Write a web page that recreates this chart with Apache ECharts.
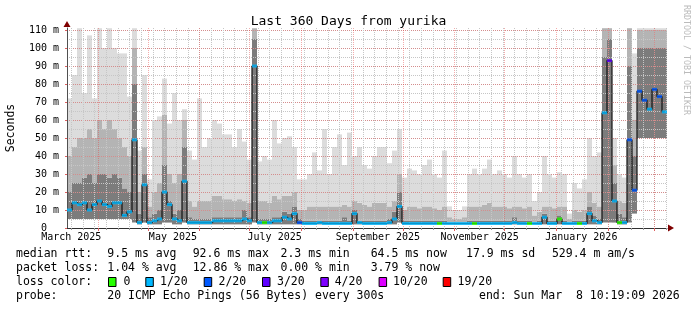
<!DOCTYPE html>
<html><head><meta charset="utf-8">
<script src="https://cdn.jsdelivr.net/npm/echarts@6/dist/echarts.min.js"></script>
<style>html,body{margin:0;padding:0;background:#fff}#c{width:697px;height:310px}</style>
</head><body><div id="c"></div>
<script>
// ---- data: 120 bins of 3 days each, Mar 13 2025 .. Mar 8 2026 (values in ms) ----
const DAYS = 360;
const median = [
 10,14,13,14,10,13,15,13,12,14,
 14,7,9,49,3,24,3,4,5,20,
 13,5,4,26,3,3,3,3,3,4,
 4,4,4,4,4,5,4,90,3,3,
 3,4,4,6,5,8,3,2.5,2.5,2.5,
 3,2.5,2.5,2.5,2.5,2.5,2.5,8,3,2.5,
 2.5,2.5,2.5,2.5,3,5,12,2.5,2.5,2.5,
 2.5,2.5,2.5,2.5,2.5,2.5,2.5,2.5,2.5,2.5,
 2.5,2.5,2.5,2.5,2.5,2.5,2.5,2.5,2.5,3,
 2.5,2.5,2.5,2.5,2.5,6,2.5,2.5,5,2.5,
 2.5,2.5,2.5,2.5,8,4,3,64,93,15,
 3,3,49,21,76,71,66,77,73,64.5
];
const smokeLow = [
 5,5,5,5,5,5,5,5,5,5,
 5,5,5,3,2,3,2,2,2,3,
 3,2,2,3,2,2,2,2,2,2,
 2,2,2,2,2,2,2,3,2,2,
 2,2,2,2,2,2,2,2,2,2,
 2,2,2,2,2,2,2,2,2,2,
 2,2,2,2,2,2,3,2,2,2,
 2,2,2,2,2,2,2,2,2,2,
 2,2,2,2,2,2,2,2,2,2,
 2,2,2,2,2,2,2,2,2,2,
 2,2,2,2,2,2,2,3,3,3,
 2,2,3,8,50,50,50,50,50,50
];
const smokeDark = [
 20,25,25,28,30,25,30,30,28,30,
 28,22,20,80,8,30,6,8,10,35,
 15,8,10,45,6,5,5,5,5,6,
 6,6,6,6,6,10,6,105,5,5,
 5,6,6,9,8,12,5,4,4,4,
 4,4,4,4,4,6,4,10,4,4,
 4,4,4,4,5,9,20,4,4,4,
 4,4,4,4,4,4,3,3,3,3,
 4,4,4,4,4,4,4,4,4,6,
 4,4,4,3,4,8,4,4,7,4,
 3,4,4,4,12,7,5,95,105,25,
 8,6,90,40,100,100,100,100,100,100
];
const smokeMid = [
 40,45,50,50,55,50,60,55,60,55,
 50,45,40,100,20,45,12,20,25,63,
 30,25,30,60,15,12,15,15,15,18,
 18,16,16,15,16,15,14,111,15,15,
 14,18,16,18,18,20,10,10,12,12,
 12,12,12,12,12,13,12,15,14,13,
 12,14,14,14,12,15,30,10,12,12,
 11,12,12,11,10,12,6,5,5,6,
 12,12,12,13,14,12,12,12,11,12,
 12,11,12,7,9,12,12,11,12,12,
 5,10,9,10,20,14,12,111,111,35,
 15,14,111,60,110,110,110,110,110,110
];
const smokeMax = [
 72,85,111,75,107,72,111,100,111,100,
 97,97,73,111,43,85,27,60,62,83,
 58,75,60,66,43,38,72,45,50,60,
 58,52,52,45,55,48,38,111,37,40,
 38,60,47,50,51,45,27,27,30,42,
 32,55,30,45,52,35,53,40,45,35,
 33,40,45,45,36,43,55,28,33,32,
 30,35,38,30,28,43,12,10,10,12,
 30,33,30,33,38,30,32,30,28,40,
 30,28,30,15,20,40,30,28,31,30,
 8,25,22,27,50,40,42,111,111,50,
 30,28,111,97,111,111,111,111,111,111
];
// index into lossLevels / lossColors
const lossIdx = [
 1,1,1,1,1,1,1,1,1,1,
 1,1,1,1,1,1,1,1,1,1,
 1,1,1,1,1,1,1,1,1,1,
 1,1,1,1,1,1,1,1,1,0,
 1,1,1,1,1,1,2,1,1,1,
 1,1,1,1,1,1,1,1,1,1,
 1,1,1,1,1,1,1,1,1,1,
 1,1,1,1,0,1,1,1,1,1,
 1,0,1,1,1,1,1,1,1,1,
 1,1,0,1,1,1,1,1,0,1,
 1,1,0,1,1,1,1,1,3,1,
 0,1,2,2,2,2,1,2,2,1
];
const lossLevels = ['0','1/20','2/20','3/20','4/20','10/20','19/20'];
const lossColors = ['#26ff00','#00b8ff','#0059ff','#5e00ff','#7e00ff','#dd00ff','#ff0000'];

// axis ticks (days from start of window / ms)
const monthStarts = [18.57,48.57,79.57,109.57,140.57,171.57,201.57,232.57,262.57,293.57,324.57,352.57];
const monthLabelDays = [2.57,63.57,124.57,186.57,247.57,308.57];
const monthLabels = ['March 2025','May 2025','July 2025','September 2025','November 2025','January 2026'];
const firstSunday = 2.57;
const yMinorTicks = [0,5,10,15,20,25,30,35,40,45,50,55,60,65,70,75,80,85,90,95,100,105,110];
const yMajorTicks = [0,10,20,30,40,50,60,70,80,90,100,110];
const YMAX = 111.11;

const weekTicks = [];
for (let d = firstSunday; d <= DAYS; d += 7) weekTicks.push(+d.toFixed(2));

const FONT = '"DejaVu Sans Mono", monospace';
const bins = median.map((_, i) => i);
const diff = (a, b) => a.map((v, i) => Math.max(0, v - b[i]));

const minorLine = {show: true, lineStyle: {color: '#c6c6c6', type: [1, 1], width: 1}};
const majorLine = {show: true, lineStyle: {color: 'rgba(228,70,70,0.45)', type: [1, 1], width: 1}};

function arrowAxis(extra) {
  return Object.assign({
    type: 'value', min: 0, z: 4,
    axisLine: {show: true, onZero: false, symbol: ['none', 'triangle'], symbolSize: [7, 6], symbolOffset: [0, 4],
      lineStyle: {color: '#7f0000', width: 0}},
    axisTick: {show: false}, axisLabel: {show: false}, splitLine: {show: false}
  }, extra);
}

const option = {
  animation: false,
  backgroundColor: '#ffffff',
  title: {
    text: 'Last 360 Days from yurika', left: 'center', top: 10,
    textStyle: {fontFamily: FONT, fontSize: 13, fontWeight: 'normal', color: '#000'}
  },
  grid: {left: 67, top: 28, width: 600, height: 200, containLabel: false, outerBoundsMode: 'none'},
  xAxis: [
    {type: 'category', position: 'bottom', data: bins, boundaryGap: true, show: false},
    {type: 'value', position: 'bottom', min: 0, max: DAYS, z: 3,
      axisLine: {show: true, onZero: false, lineStyle: {color: '#303030', width: 1}},
      axisTick: {show: true, length: 2, customValues: weekTicks, lineStyle: {color: '#999'}},
      axisLabel: {show: false}, splitLine: minorLine},
    {type: 'value', position: 'bottom', min: 0, max: DAYS, z: 3,
      axisLine: {show: false, onZero: false},
      axisTick: {show: true, length: 3, customValues: monthStarts, lineStyle: {color: '#e06060'}},
      axisLabel: {show: true, customValues: monthLabelDays, margin: 4, fontFamily: FONT, fontSize: 10, color: '#000',
        formatter: function (v) {
          let best = 0;
          monthLabelDays.forEach((d, k) => { if (Math.abs(d - v) < Math.abs(monthLabelDays[best] - v)) best = k; });
          return monthLabels[best];
        }},
      splitLine: majorLine},
    arrowAxis({position: 'bottom', max: DAYS})
  ],
  yAxis: [
    {type: 'value', position: 'left', min: 0, max: YMAX, z: 3,
      name: 'Seconds', nameLocation: 'middle', nameGap: 50, nameRotate: 90,
      nameTextStyle: {fontFamily: FONT, fontSize: 11.5, color: '#000'},
      axisLine: {show: true, onZero: false, lineStyle: {color: '#505050', width: 1}},
      axisTick: {show: false, customValues: yMinorTicks},
      axisLabel: {show: false}, splitLine: minorLine},
    {type: 'value', position: 'left', min: 0, max: YMAX, z: 3,
      axisLine: {show: false, onZero: false},
      axisTick: {show: true, length: 2, customValues: yMajorTicks, lineStyle: {color: '#e06060'}},
      axisLabel: {show: true, customValues: yMajorTicks, margin: 8, fontFamily: FONT, fontSize: 10, color: '#000',
        formatter: v => (v === 0 ? '0  ' : v + ' m')},
      splitLine: majorLine},
    arrowAxis({position: 'left', max: YMAX})
  ],
  series: [
    {type: 'bar', stack: 'smoke', data: smokeLow, itemStyle: {color: 'rgba(0,0,0,0)'}, barWidth: '100%', silent: true},
    {type: 'bar', stack: 'smoke', data: diff(smokeDark, smokeLow), itemStyle: {color: '#7c7c7c'}, barWidth: '100%', silent: true},
    {type: 'bar', stack: 'smoke', data: diff(smokeMid, smokeDark), itemStyle: {color: '#b4b4b4'}, barWidth: '100%', silent: true},
    {type: 'bar', stack: 'smoke', data: diff(smokeMax, smokeMid), itemStyle: {color: '#dcdcdc'}, barWidth: '100%', silent: true},
    {type: 'line', data: median, step: 'middle', showSymbol: false, symbol: 'none', z: 5,
      lineStyle: {color: '#111', width: 1.2}, silent: true},
    {type: 'scatter', data: median, symbol: 'rect', symbolSize: [5, 3], z: 6, silent: true,
      itemStyle: {color: p => lossColors[lossIdx[p.dataIndex]]}}
  ],
  graphic: []
};

// legend block (rrdtool style)
const legendFont = '11.5px "DejaVu Sans Mono", monospace';
const legendRows = [
  {y: 254, items: [[16, 'median rtt:'], [107.3, '9.5 ms avg'], [192.7, '92.6 ms max'], [280.5, '2.3 ms min'],
                   [370.7, '64.5 ms now'], [466, '17.9 ms sd'], [551.9, '529.4 m am/s']]},
  {y: 268.2, items: [[16, 'packet loss:'], [107.3, '1.04 % avg'], [192.7, '12.86 % max'], [280.5, '0.00 % min'],
                     [370.7, '3.79 % now']]},
  {y: 282.2, items: [[16, 'loss color:']]},
  {y: 296.2, items: [[16, 'probe:'], [107.3, '20 ICMP Echo Pings (56 Bytes) every 300s'],
                     [479, 'end: Sun Mar  8 10:19:09 2026']]}
];
legendRows.forEach(r => r.items.forEach(([x, t]) => {
  option.graphic.push({type: 'text', x: x, y: r.y, silent: true,
    style: {text: t, font: legendFont, fill: '#000', align: 'left', verticalAlign: 'middle'}});
}));
const boxX = [108.5, 145.8, 204.2, 262.5, 320.8, 379.1, 443.2];
const boxTextX = [123.5, 160, 218.5, 277, 334.7, 393, 457.5];
lossLevels.forEach((lab, k) => {
  option.graphic.push({type: 'rect', silent: true, shape: {x: boxX[k], y: 277.5, width: 7.5, height: 9},
    style: {fill: lossColors[k], stroke: '#000', lineWidth: 1}});
  option.graphic.push({type: 'text', x: boxTextX[k], y: 282.2, silent: true,
    style: {text: lab, font: legendFont, fill: '#000', align: 'left', verticalAlign: 'middle'}});
});
option.graphic.push({type: 'text', x: 686, y: 5, rotation: -Math.PI / 2, silent: true,
  style: {text: 'RRDTOOL / TOBI OETIKER', font: '8.3px "DejaVu Sans Mono", monospace', fill: '#bbbbbb',
    align: 'left', verticalAlign: 'middle'}});

const chart = echarts.init(document.getElementById('c'), null, {renderer: 'canvas'});
chart.setOption(option);
</script></body></html>
